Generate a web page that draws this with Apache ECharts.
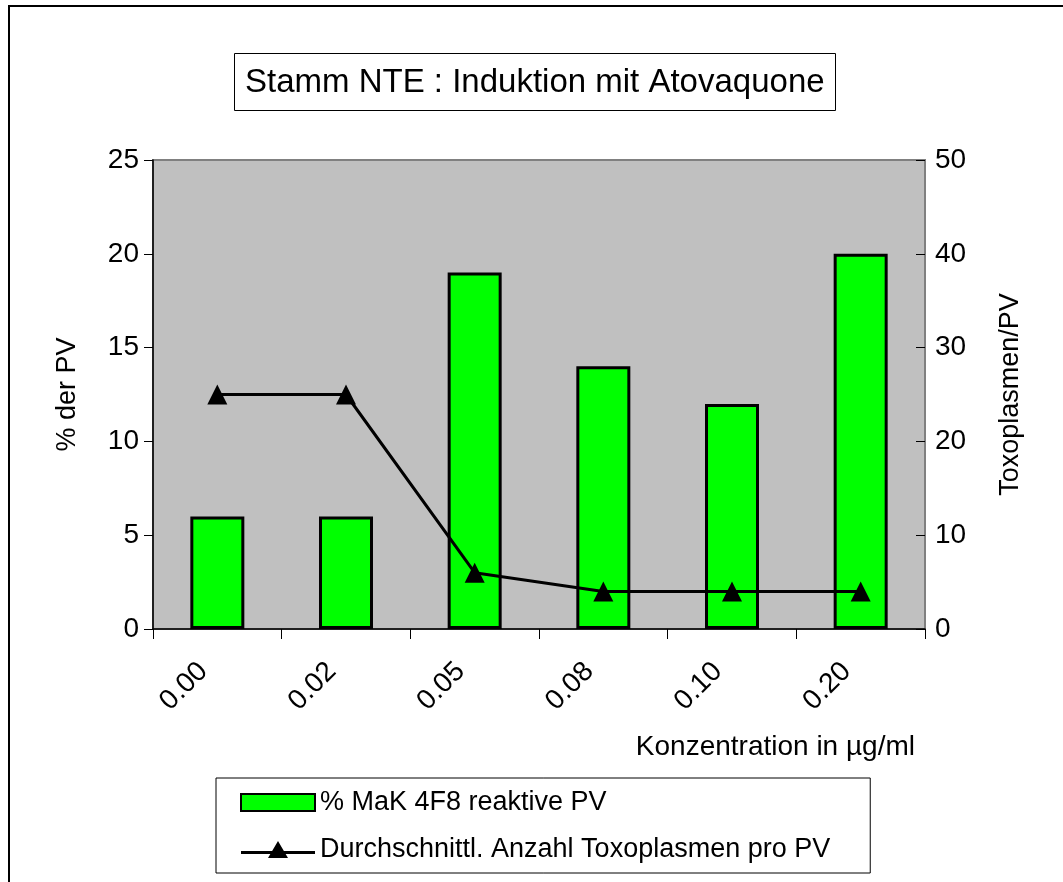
<!DOCTYPE html>
<html>
<head>
<meta charset="utf-8">
<script src="https://cdn.jsdelivr.net/npm/echarts@6/dist/echarts.min.js"></script>
<style>
html, body { margin: 0; padding: 0; background: #fff; }
#P1_chart { width: 1063px; height: 882px; }
</style>
</head>
<body>
<div id="P1_chart"></div>
<script>
var konzentration = ['0.00', '0.02', '0.05', '0.08', '0.10', '0.20'];
var reaktivPV = [6, 6, 19, 14, 12, 20];
var toxoProPV = [25, 25, 6, 4, 4, 4];
var leftTicks = { min: 0, max: 25, interval: 5 };
var rightTicks = { min: 0, max: 50, interval: 10 };

var schrift = "'Liberation Sans', Arial, sans-serif";

var option = {
    animation: false,
    textStyle: { fontFamily: schrift, color: '#000' },
    title: {
        text: 'Stamm NTE : Induktion mit Atovaquone',
        left: 234,
        top: 53,
        padding: [13, 11, 12, 11],
        borderColor: '#000',
        borderWidth: 1,
        textStyle: { fontSize: 33, fontWeight: 'normal', color: '#000', fontFamily: schrift }
    },
    legend: {
        orient: 'vertical',
        left: 216,
        top: 778,
        padding: [11, 40, 10, 24],
        itemGap: 20,
        itemWidth: 74,
        itemHeight: 17,
        borderColor: '#000',
        borderWidth: 1,
        textStyle: { fontSize: 27, color: '#000', fontFamily: schrift },
        data: [
            { name: '% MaK 4F8 reaktive PV', icon: 'rect' },
            { name: 'Durchschnittl. Anzahl Toxoplasmen pro PV',
              icon: 'path://M0,10h74v3h-74z M37,0L47,17L27,17Z' }
        ]
    },
    grid: {
        left: 153,
        right: 138,
        top: 160,
        bottom: 253,
        show: true,
        backgroundColor: '#c0c0c0',
        borderColor: '#808080',
        borderWidth: 2
    },
    xAxis: {
        type: 'category',
        data: konzentration,
        boundaryGap: true,
        name: 'Konzentration in µg/ml',
        nameLocation: 'end',
        nameGap: -10,
        nameTextStyle: {
            fontSize: 28, color: '#000', fontFamily: schrift,
            align: 'right', verticalAlign: 'top', padding: [104, 0, 0, 0]
        },
        axisLine: { lineStyle: { color: '#000', width: 1.5 } },
        axisTick: { show: true, length: 10, lineStyle: { color: '#000' } },
        axisLabel: {
            rotate: 45, margin: 24, padding: [0, 20, 0, 0],
            fontSize: 28, color: '#000', fontFamily: schrift
        },
        splitLine: { show: false }
    },
    yAxis: [
        {
            type: 'value',
            min: leftTicks.min, max: leftTicks.max, interval: leftTicks.interval,
            name: '% der PV',
            nameLocation: 'middle',
            nameRotate: 90,
            nameGap: 72,
            nameTextStyle: { fontSize: 27, color: '#000', fontFamily: schrift },
            axisLine: { show: true, lineStyle: { color: '#000', width: 1.5 } },
            axisTick: { show: true, length: 9, lineStyle: { color: '#000' } },
            axisLabel: { margin: 14, fontSize: 28, color: '#000', fontFamily: schrift },
            splitLine: { show: false }
        },
        {
            type: 'value',
            position: 'right',
            min: rightTicks.min, max: rightTicks.max, interval: rightTicks.interval,
            name: 'Toxoplasmen/PV',
            nameLocation: 'middle',
            nameRotate: 90,
            nameGap: 72,
            nameTextStyle: { fontSize: 27, color: '#000', fontFamily: schrift },
            axisLine: { show: true, lineStyle: { color: '#808080', width: 2 } },
            axisTick: { show: true, inside: true, length: 9, lineStyle: { color: '#000' } },
            axisLabel: { margin: 10, fontSize: 28, color: '#000', fontFamily: schrift },
            splitLine: { show: false }
        }
    ],
    graphic: [{
        type: 'rect',
        silent: true,
        shape: { x: 9, y: 6, width: 1200, height: 1000 },
        style: { fill: 'none', stroke: '#000', lineWidth: 2 }
    }],
    series: [
        {
            name: '% MaK 4F8 reaktive PV',
            type: 'bar',
            yAxisIndex: 0,
            barWidth: 54,
            itemStyle: { color: '#00ff00', borderColor: '#000', borderWidth: 3 },
            data: reaktivPV
        },
        {
            name: 'Durchschnittl. Anzahl Toxoplasmen pro PV',
            type: 'line',
            yAxisIndex: 1,
            symbol: 'triangle',
            symbolSize: 20,
            z: 5,
            lineStyle: { color: '#000', width: 3 },
            itemStyle: { color: '#000' },
            data: toxoProPV
        }
    ]
};

var myChart = echarts.init(document.getElementById('P1_chart'));
myChart.setOption(option);
</script>
</body>
</html>
